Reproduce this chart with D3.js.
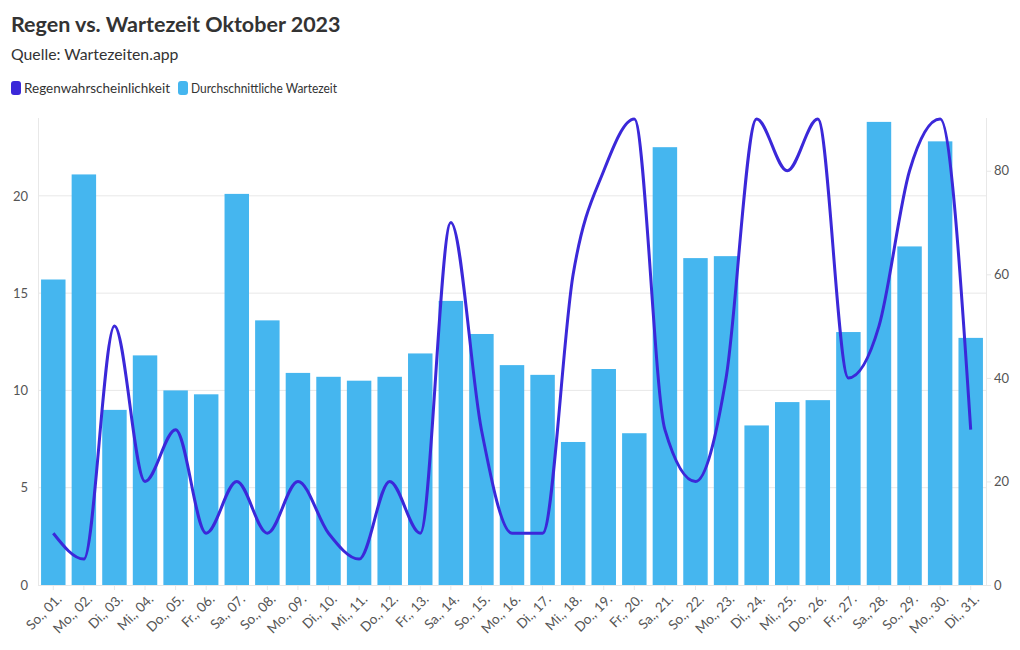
<!DOCTYPE html>
<html><head><meta charset="utf-8">
<script src="https://cdn.jsdelivr.net/npm/d3@7"></script>
<style>
body{margin:0;background:#fff;}
svg text{font-family:Lato,"Noto Sans",sans-serif;}
</style></head><body>
<svg id="chart" width="1020" height="650"></svg>
<script>
const days = ["So., 01.","Mo., 02.","Di., 03.","Mi., 04.","Do., 05.","Fr., 06.","Sa., 07.","So., 08.","Mo., 09.","Di., 10.","Mi., 11.","Do., 12.","Fr., 13.","Sa., 14.","So., 15.","Mo., 16.","Di., 17.","Mi., 18.","Do., 19.","Fr., 20.","Sa., 21.","So., 22.","Mo., 23.","Di., 24.","Mi., 25.","Do., 26.","Fr., 27.","Sa., 28.","So., 29.","Mo., 30.","Di., 31."];
const waitTime = [15.7,21.1,9.0,11.8,10.0,9.8,20.1,13.6,10.9,10.7,10.5,10.7,11.9,14.6,12.9,11.3,10.8,7.35,11.1,7.8,22.5,16.8,16.9,8.2,9.4,9.5,13.0,23.8,17.4,22.8,12.7];
const rainProb = [10,5,50,20,30,10,20,10,20,10,5,20,10,70,30,10,10,60,80,90,30,20,40,90,80,90,40,50,80,90,30];
const leftTicks = [0,5,10,15,20];
const rightTicks = [0,20,40,60,80];
const seriesNames = ["Regenwahrscheinlichkeit","Durchschnittliche Wartezeit"];
const colors = {rain:"#3b28d9", wait:"#45b6ef"};

const svg = d3.select("#chart");
const m = {left:38, right:986, top:118, bottom:585};

const x = d3.scaleBand().domain(days).range([m.left, m.right]).paddingInner(0.2).paddingOuter(0.1);
const yL = d3.scaleLinear().domain([0,24]).range([m.bottom, m.top]);
const yR = d3.scaleLinear().domain([0,90]).range([m.bottom, m.top+1]);

// title
svg.append("text").attr("x",11).attr("y",32).attr("font-size",21.5).attr("font-weight",700).attr("fill","#333")
  .text("Regen vs. Wartezeit Oktober 2023");
svg.append("text").attr("x",11).attr("y",60).attr("font-size",15.8).attr("fill","#333").text("Quelle: Wartezeiten.app");

// legend
const leg = svg.append("g").attr("transform","translate(11,81)");
const legWidths = [146, 146];
let lx = 0;
[["rain",seriesNames[0]],["wait",seriesNames[1]]].forEach(([k,name],i)=>{
  leg.append("rect").attr("x",lx).attr("y",0).attr("width",10).attr("height",14).attr("rx",3).attr("fill",colors[k]);
  leg.append("text").attr("x",lx+13).attr("y",12).attr("font-size",13).attr("fill","#333")
    .attr("textLength",legWidths[i]).attr("lengthAdjust","spacingAndGlyphs").text(name);
  lx += 13 + legWidths[i] + 8;
});

// gridlines
svg.append("g").selectAll("line").data(leftTicks.filter(d=>d>0)).join("line")
  .attr("x1",m.left).attr("x2",m.right).attr("y1",d=>yL(d)).attr("y2",d=>yL(d))
  .attr("stroke","#e8e8e8").attr("stroke-width",1);

// axis lines
svg.append("line").attr("x1",m.left+0.5).attr("x2",m.left+0.5).attr("y1",m.top).attr("y2",m.bottom).attr("stroke","#e8e8e8");
svg.append("line").attr("x1",m.right+0.5).attr("x2",m.right+0.5).attr("y1",m.top).attr("y2",m.bottom).attr("stroke","#e8e8e8");
svg.append("line").attr("x1",m.left).attr("x2",m.right).attr("y1",m.bottom+0.5).attr("y2",m.bottom+0.5).attr("stroke","#e8e8e8");

// bars
svg.append("g").selectAll("rect").data(waitTime).join("rect")
  .attr("x",(d,i)=>x(days[i])).attr("width",x.bandwidth())
  .attr("y",d=>yL(d)).attr("height",d=>yL(0)-yL(d)).attr("fill",colors.wait);

// line
const line = d3.line().x((d,i)=>x(days[i])+x.bandwidth()/2).y(d=>yR(d)).curve(d3.curveMonotoneX);
svg.append("path").datum(rainProb).attr("d",line).attr("fill","none").attr("stroke",colors.rain).attr("stroke-width",3);

// left axis
const gl = svg.append("g").attr("transform",`translate(${m.left},0)`)
  .call(d3.axisLeft(yL).tickValues(leftTicks).tickSize(0).tickPadding(10));
gl.select(".domain").remove();
gl.selectAll("text").attr("font-size",13).attr("fill","#555");

// right axis
const gr = svg.append("g").attr("transform",`translate(${m.right},0)`)
  .call(d3.axisRight(yR).tickValues(rightTicks).tickSize(5).tickPadding(3));
gr.select(".domain").remove();
gr.selectAll("line").attr("stroke","#e8e8e8");
gr.selectAll("text").attr("font-size",13).attr("fill","#555");

// x axis
const gx = svg.append("g").attr("transform",`translate(0,${m.bottom})`)
  .call(d3.axisBottom(x).tickSize(5).tickPadding(4));
gx.select(".domain").remove();
gx.selectAll("line").attr("stroke","#e8e8e8");
gx.selectAll("text").attr("font-size",13.5).attr("fill","#555")
  .attr("text-anchor","end").attr("transform","rotate(-45)").attr("dx","-0.3em").attr("dy","0.6em");
</script></body></html>
